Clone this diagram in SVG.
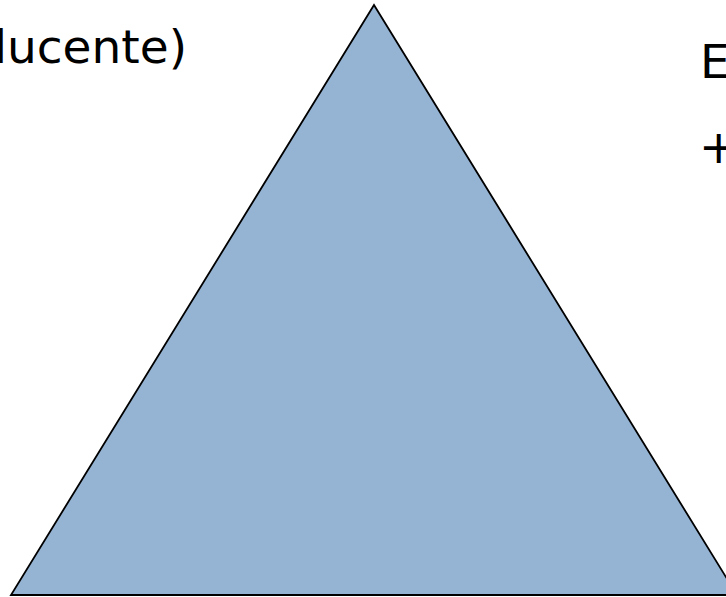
<svg xmlns="http://www.w3.org/2000/svg" width="726" height="597" viewBox="0 0 726 597">
<style>
.t{font-family:"DejaVu Sans",Verdana,sans-serif;font-size:47px;fill:#000}
</style>
<rect width="726" height="597" fill="#fff"/>
<g id="triangle">
<polygon points="374,5 11,595 737,595" fill="#95b3d2" stroke="#000" stroke-width="1.8" stroke-linejoin="miter"/>
</g>
<g id="labels">
<text class="t" x="187" y="63" text-anchor="end">lucente)</text>
<text class="t" x="700" y="78">E</text>
<text class="t" x="699" y="163">+</text>
</g>
</svg>
